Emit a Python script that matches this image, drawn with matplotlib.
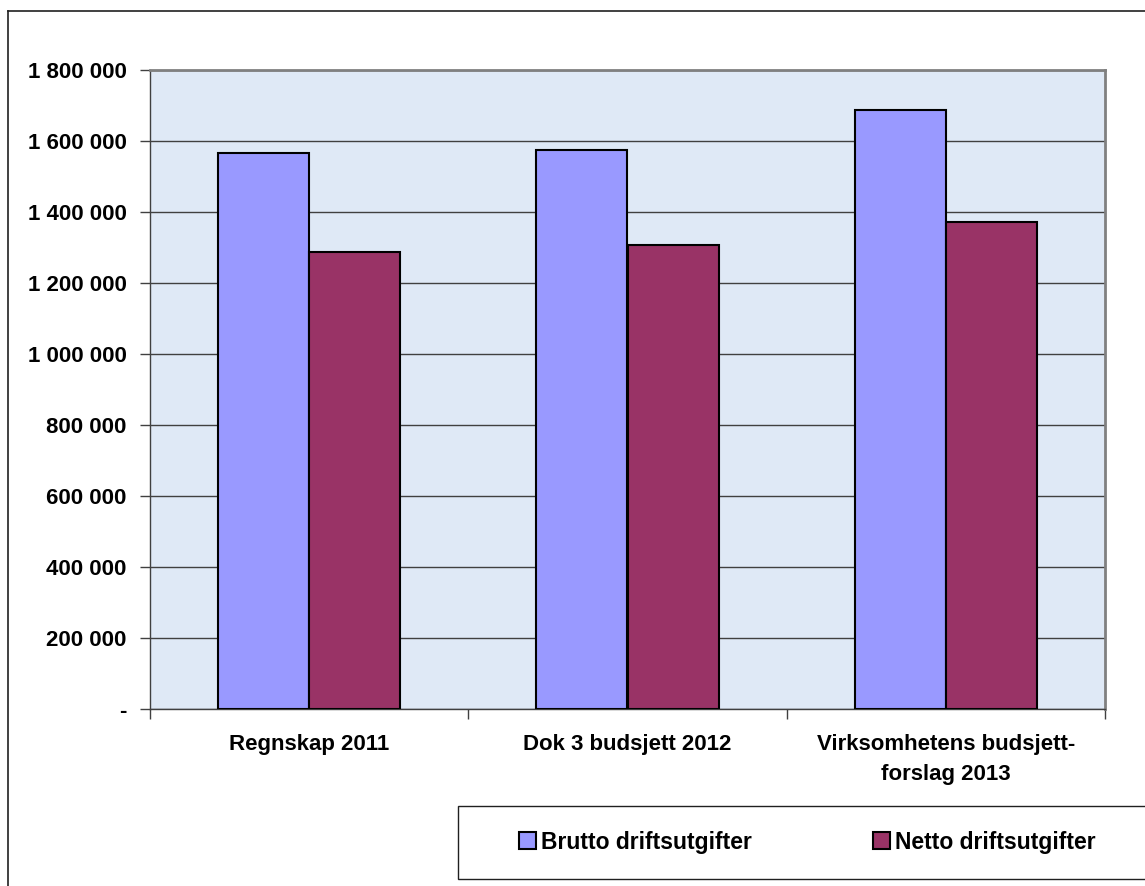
import matplotlib.pyplot as plt
import numpy as np
from matplotlib.patches import Rectangle
from matplotlib.lines import Line2D

plt.rcParams['font.family'] = ['Liberation Sans', 'DejaVu Sans']
plt.rcParams['font.weight'] = 'bold'

# data
categories = ["Regnskap 2011", "Dok 3 budsjett 2012", "Virksomhetens budsjett-\nforslag 2013"]
brutto = [1565500, 1574600, 1687300]
netto = [1286500, 1308000, 1371800]
series_names = ["Brutto driftsutgifter", "Netto driftsutgifter"]
yticks = np.arange(0, 1800001, 200000)

def fmt(v):
    if v == 0:
        return "-"
    return "{:,}".format(int(v)).replace(",", " ")

W, H = 1145, 886
fs = 16
fig = plt.figure(figsize=(W/100, H/100), dpi=100)
ax = fig.add_axes([150/W, 1-709/H, (1105-150)/W, (709-70)/H])
ax.set_facecolor("#dfe9f6")

x = np.arange(len(categories))
bw = 0.286
ax.bar(x - bw/2, brutto, bw, color="#9999ff", edgecolor="black", linewidth=1.5, zorder=3,
       label=series_names[0])
ax.bar(x + bw/2, netto, bw, color="#993366", edgecolor="black", linewidth=1.5, zorder=3,
       label=series_names[1])

ax.set_xlim(-0.5, len(categories) - 0.5)
ax.set_ylim(0, 1800000)
ax.set_yticks(yticks)
ax.set_yticklabels([fmt(v) for v in yticks], fontsize=fs, fontweight='bold')
ax.yaxis.grid(True, color="#404040", linewidth=1, zorder=1)
ax.tick_params(axis='y', length=7, width=1, pad=10, color="#404040")

# category boundaries as ticks, labels at centres
ax.set_xticks(np.arange(-0.5, len(categories)), labels=[""] * (len(categories) + 1))
ax.set_xticks(x, minor=True)
ax.set_xticklabels(categories, minor=True, fontsize=fs, fontweight='bold', linespacing=1.55)
ax.tick_params(axis='x', which='major', length=7, width=1, color="#404040")
ax.tick_params(axis='x', which='minor', length=0, pad=18)

for s in ['top', 'right']:
    ax.spines[s].set_color("#808080")
    ax.spines[s].set_linewidth(2)
for s in ['left', 'bottom']:
    ax.spines[s].set_color("#404040")
    ax.spines[s].set_linewidth(1)

# outer chart frame (left and top edges visible)
fig.add_artist(Line2D([8/W, 8/W], [0, 1-11/H], transform=fig.transFigure, color="#202020", linewidth=1.2))
fig.add_artist(Line2D([8/W, 1], [1-11/H, 1-11/H], transform=fig.transFigure, color="#202020", linewidth=1.2))

# legend box
fig.add_artist(Rectangle((458/W, 1-879/H), (1150-458)/W, (879-806)/H, transform=fig.transFigure,
                         facecolor="white", edgecolor="#202020", linewidth=1))
leg = fig.legend(loc='center left', bbox_to_anchor=(519/W, 1-842/H), ncol=2, frameon=False,
                 fontsize=16.5, handlelength=0.74, handleheight=0.74, handletextpad=0.22,
                 columnspacing=5.3, borderaxespad=0, borderpad=0)
for t in leg.get_texts():
    t.set_fontweight('bold')

fig.savefig("out.png", dpi=100)
